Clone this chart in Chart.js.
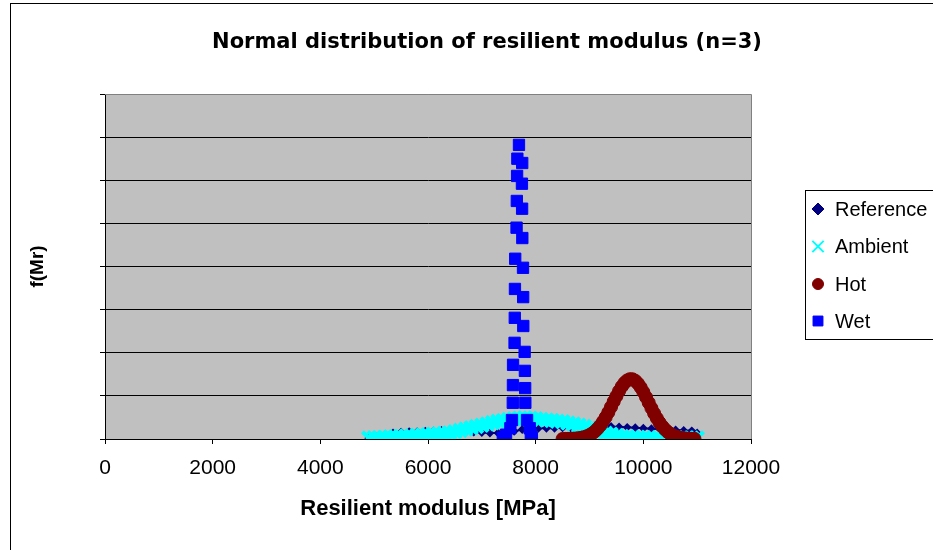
<!DOCTYPE html>
<html>
<head>
<meta charset="utf-8">
<script src="https://cdn.jsdelivr.net/npm/chart.js@4.4.0/dist/chart.umd.min.js"></script>
<style>
  html, body { margin: 0; padding: 0; background: #fff; overflow: hidden; }
  #wrap { width: 974px; height: 550px; }
</style>
</head>
<body>
<div id="wrap"><canvas id="grafico" width="974" height="550"></canvas></div>
<script>
// nombres y colores de las series
const seriesNames = ["Reference", "Ambient", "Hot", "Wet"];
const seriesColors = ["#000080", "#00FFFF", "#800000", "#0000FF"];
const markerStyles = ["rectRot", "crossRot", "circle", "rect"];

// eje x
const xTickLabels = ["0", "2000", "4000", "6000", "8000", "10000", "12000"];

// f(Mr) en unidades de 1e-3
const referenceX = [4900, 5050, 5200, 5350, 5500, 5650, 5800, 5950, 6100, 6250, 6400, 6550, 6700, 6850, 7000, 7150, 7300, 7450, 7600, 7750, 7900, 8050, 8200, 8350, 8500, 8650, 8800, 8950, 9100, 9250, 9400, 9550, 9700, 9850, 10000, 10150, 10300, 10450, 10600, 10750, 10900, 11000];
const referenceY = [0.02, 0.06, 0.10, 0.14, 0.16, 0.17, 0.17, 0.18, 0.19, 0.20, 0.20, 0.19, 0.18, 0.16, 0.15, 0.14, 0.14, 0.15, 0.18, 0.22, 0.24, 0.25, 0.25, 0.25, 0.26, 0.26, 0.27, 0.27, 0.28, 0.28, 0.29, 0.28, 0.27, 0.26, 0.25, 0.24, 0.23, 0.22, 0.21, 0.20, 0.19, 0.14];

const ambientX = [4900, 5000, 5100, 5200, 5300, 5400, 5500, 5600, 5700, 5800, 5900, 6000, 6100, 6200, 6300, 6400, 6500, 6600, 6700, 6800, 6900, 7000, 7100, 7200, 7300, 7400, 7500, 7600, 7700, 7800, 7900, 8000, 8100, 8200, 8300, 8400, 8500, 8600, 8700, 8800, 8900, 9000, 9100, 9200, 9300, 9400, 9500, 9600, 9700, 9800, 9900, 10000, 10100, 10200, 10300, 10400, 10500, 10600, 10700, 10800, 10900, 11000];
const ambientY = [0.02, 0.03, 0.03, 0.04, 0.05, 0.05, 0.06, 0.07, 0.07, 0.08, 0.09, 0.10, 0.11, 0.12, 0.13, 0.14, 0.17, 0.20, 0.23, 0.26, 0.29, 0.32, 0.35, 0.38, 0.41, 0.43, 0.45, 0.47, 0.48, 0.49, 0.48, 0.47, 0.45, 0.44, 0.43, 0.41, 0.40, 0.37, 0.35, 0.32, 0.29, 0.25, 0.22, 0.17, 0.13, 0.11, 0.08, 0.06, 0.05, 0.04, 0.04, 0.03, 0.03, 0.03, 0.02, 0.02, 0.02, 0.02, 0.02, 0.02, 0.02, 0.02];

const hotX = [8500, 8550, 8600, 8650, 8700, 8750, 8800, 8850, 8900, 8950, 9000, 9050, 9100, 9150, 9200, 9250, 9300, 9350, 9400, 9450, 9500, 9550, 9600, 9650, 9700, 9750, 9800, 9850, 9900, 9950, 10000, 10050, 10100, 10150, 10200, 10250, 10300, 10350, 10400, 10450, 10500, 10550, 10600, 10650, 10700, 10750, 10800, 10850, 10900, 10950];
const hotY = [0.001, 0.002, 0.003, 0.004, 0.007, 0.012, 0.019, 0.029, 0.043, 0.063, 0.091, 0.129, 0.177, 0.238, 0.313, 0.402, 0.504, 0.618, 0.742, 0.869, 0.994, 1.113, 1.217, 1.301, 1.359, 1.387, 1.384, 1.350, 1.286, 1.198, 1.090, 0.970, 0.843, 0.716, 0.595, 0.483, 0.383, 0.297, 0.225, 0.166, 0.120, 0.085, 0.059, 0.040, 0.026, 0.017, 0.011, 0.007, 0.004, 0.003];

const wetX = [7690, 7660, 7750, 7655, 7745, 7650, 7748, 7645, 7752, 7620, 7765, 7615, 7768, 7612, 7770, 7608, 7795, 7580, 7800, 7578, 7805, 7575, 7808, 7560, 7840, 7530, 7890, 7450, 7910, 7390, 7930];
const wetY = [6.82, 6.50, 6.40, 6.10, 5.92, 5.52, 5.34, 4.90, 4.66, 4.18, 3.97, 3.48, 3.29, 2.81, 2.62, 2.23, 2.02, 1.72, 1.58, 1.25, 1.18, 0.84, 0.84, 0.44, 0.44, 0.25, 0.25, 0.10, 0.10, 0.03, 0.03];

function puntos(xs, ys) {
  const out = [];
  for (let i = 0; i < xs.length; i++) {
    out.push({ x: xs[i], y: ys[i] });
  }
  return out;
}

// marco exterior, fondo gris y leyenda con recuadro
const marcoPlugin = {
  id: "marco",
  beforeDraw(chart) {
    const ctx = chart.ctx;
    const a = chart.chartArea;
    ctx.save();
    ctx.fillStyle = "#fff";
    ctx.fillRect(0, 0, chart.width, chart.height);
    ctx.strokeStyle = "#000";
    ctx.lineWidth = 1;
    ctx.strokeRect(10.5, 3.5, chart.width, chart.height + 20);
    ctx.fillStyle = "#C0C0C0";
    ctx.fillRect(a.left, a.top, a.right - a.left, a.bottom - a.top);
    ctx.restore();
  },
  beforeDatasetsDraw(chart) {
    const ctx = chart.ctx;
    const a = chart.chartArea;
    ctx.save();
    ctx.strokeStyle = "#808080";
    ctx.lineWidth = 1;
    ctx.beginPath();
    ctx.moveTo(a.left, a.top + 0.5);
    ctx.lineTo(a.right + 0.5, a.top + 0.5);
    ctx.lineTo(a.right + 0.5, a.bottom);
    ctx.stroke();
    ctx.restore();
  },
  afterDraw(chart) {
    const ctx = chart.ctx;
    ctx.save();
    ctx.strokeStyle = "#000";
    ctx.lineWidth = 1;
    ctx.strokeRect(805.5, 190.5, 160, 149);
    const ys = [209, 246.5, 284, 321];
    const radios = [6, 8, 5.5, 7];
    for (let i = 0; i < seriesNames.length; i++) {
      ctx.fillStyle = seriesColors[i];
      ctx.strokeStyle = seriesColors[i];
      ctx.lineWidth = markerStyles[i] === "crossRot" ? 2 : 1;
      Chart.helpers.drawPoint(ctx, { pointStyle: markerStyles[i], radius: radios[i], rotation: 0, borderWidth: ctx.lineWidth }, 818, ys[i]);
      ctx.fillStyle = "#000";
      ctx.font = '20px "Liberation Sans", Arial, sans-serif';
      ctx.textBaseline = "middle";
      ctx.textAlign = "left";
      ctx.fillText(seriesNames[i], 835, ys[i] + 1);
    }
    ctx.restore();
  }
};

const grafica = document.getElementById("grafico");

new Chart(grafica, {
  type: "scatter",
  data: {
    datasets: [
      {
        label: seriesNames[0],
        data: puntos(referenceX, referenceY),
        pointStyle: markerStyles[0],
        pointRadius: 3,
        backgroundColor: seriesColors[0],
        borderColor: seriesColors[0],
        borderWidth: 2,
        showLine: true,
        order: 4,
      },
      {
        label: seriesNames[1],
        data: puntos(ambientX, ambientY),
        pointStyle: markerStyles[1],
        pointRadius: 9,
        pointBorderWidth: 4,
        backgroundColor: seriesColors[1],
        borderColor: seriesColors[1],
        order: 3,
      },
      {
        label: seriesNames[2],
        data: puntos(hotX, hotY),
        pointStyle: markerStyles[2],
        pointRadius: 6.5,
        pointBorderWidth: 1,
        backgroundColor: seriesColors[2],
        borderColor: seriesColors[2],
        order: 2,
      },
      {
        label: seriesNames[3],
        data: puntos(wetX, wetY),
        pointStyle: markerStyles[3],
        pointRadius: 8,
        pointBorderWidth: 1,
        backgroundColor: seriesColors[3],
        borderColor: seriesColors[3],
        order: 1,
      },
    ],
  },
  options: {
    responsive: false,
    animation: false,
    devicePixelRatio: 1,
    layout: { padding: 0 },
    plugins: {
      legend: { display: false },
      tooltip: { enabled: false },
      title: {
        display: true,
        text: "Normal distribution of resilient modulus (n=3)",
        color: "#000",
        font: { family: "DejaVu Sans", size: 21, weight: "bold" },
        padding: { top: 30, bottom: 38.8 },
      },
    },
    scales: {
      x: {
        type: "linear",
        min: 0,
        max: 12000,
        afterFit(scale) { scale.height = 111; },
        ticks: {
          stepSize: 2000,
          color: "#000",
          padding: 12,
          font: { family: "Liberation Sans", size: 21 },
          callback: (value) => xTickLabels[Math.round(value / 2000)],
        },
        grid: { drawOnChartArea: false, drawTicks: true, tickLength: 5, tickColor: "#000" },
        border: { color: "#000", width: 1 },
        title: {
          display: true,
          text: "Resilient modulus [MPa]",
          color: "#000",
          font: { family: "Liberation Sans", size: 22, weight: "bold" },
          padding: { top: 0, bottom: 27.8 },
        },
      },
      y: {
        min: 0,
        max: 8,
        afterFit(scale) { scale.width = 105; },
        ticks: { stepSize: 1, display: false },
        grid: {
          color: (c) => (c.tick && c.tick.value === 8 ? "#808080" : "#000"),
          lineWidth: 1,
          drawTicks: true,
          tickLength: 5,
          tickColor: "#000",
        },
        border: { color: "#000", width: 1 },
        title: {
          display: true,
          text: "f(Mr)",
          color: "#000",
          font: { family: "Liberation Sans", size: 19, weight: "bold" },
          padding: { top: 26.6, bottom: 0 },
        },
      },
      // espacio a la derecha para la leyenda
      derecha: {
        type: "linear",
        position: "right",
        display: true,
        min: 0,
        max: 8,
        afterFit(scale) { scale.width = 223; },
        ticks: { display: false },
        grid: { display: false, drawTicks: false },
        border: { display: false },
      },
    },
  },
  plugins: [marcoPlugin],
});
</script>
</body>
</html>
